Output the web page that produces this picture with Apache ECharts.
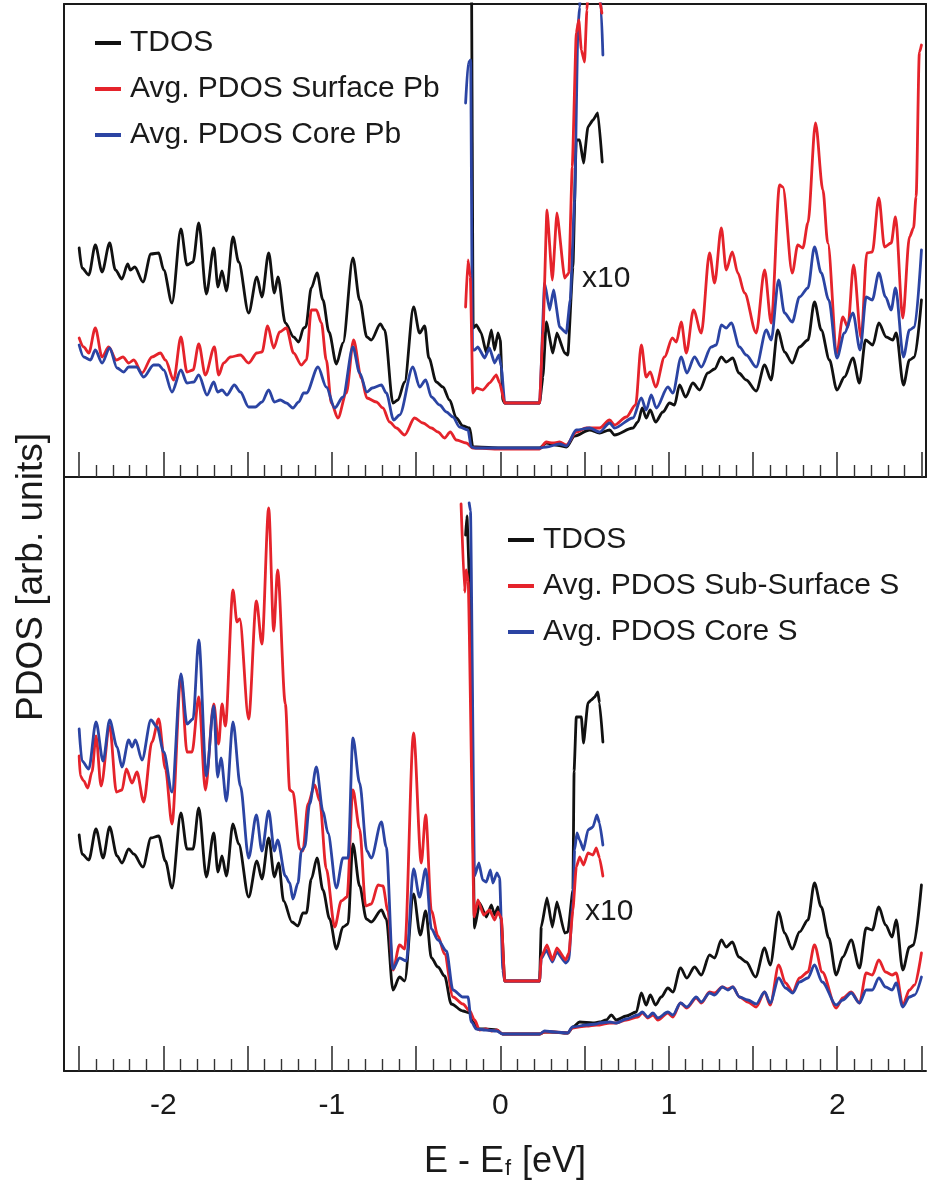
<!DOCTYPE html>
<html><head><meta charset="utf-8">
<script src="https://cdn.jsdelivr.net/npm/echarts@6/dist/echarts.min.js"></script>
<style>html,body{margin:0;padding:0;background:#fff}#c{width:928px;height:1183px}</style>
</head><body><div id="c"></div>
<script>
// ---------- data (E - Ef in eV, PDOS in arb. units) ----------
const xTickLabels = [-2, -1, 0, 1, 2];
const majorTicks = [-2.5, -2, -1.5, -1, -0.5, 0, 0.5, 1, 1.5, 2, 2.5];
const minorTicks = [-2.4,-2.3,-2.2,-2.1,-1.9,-1.8,-1.7,-1.6,-1.4,-1.3,-1.2,-1.1,-0.9,-0.8,-0.7,-0.6,-0.4,-0.3,-0.2,-0.1,
  0.1,0.2,0.3,0.4,0.6,0.7,0.8,0.9,1.1,1.2,1.3,1.4,1.6,1.7,1.8,1.9,2.1,2.2,2.3,2.4];
const topNames = ['TDOS', 'Avg. PDOS Surface Pb', 'Avg. PDOS Core Pb'];
const botNames = ['TDOS', 'Avg. PDOS Sub-Surface S', 'Avg. PDOS Core S'];

// top panel (Pb)
const topTdos = [[-2.50,229],[-2.483,209],[-2.443,202],[-2.404,232],[-2.364,205],[-2.319,234],[-2.285,207],[-2.246,198],[-2.212,213],[-2.196,207],[-2.170,210],[-2.121,195],[-2.074,223],[-2.028,224],[-1.998,207],[-1.949,174],[-1.896,248],[-1.860,212],[-1.824,215],[-1.790,254],[-1.745,183],[-1.701,229],[-1.676,190],[-1.652,206],[-1.626,186],[-1.587,240],[-1.553,215],[-1.494,164],[-1.445,200],[-1.415,180],[-1.375,224],[-1.341,184],[-1.320,200],[-1.276,154],[-1.227,140],[-1.197,135],[-1.167,149],[-1.155,150],[-1.122,189],[-1.088,204],[-1.053,177],[-1.017,145],[-0.973,113],[-0.934,134],[-0.875,219],[-0.835,177],[-0.792,140],[-0.766,137],[-0.712,153],[-0.687,147],[-0.637,74],[-0.608,77],[-0.568,95],[-0.515,170],[-0.479,144],[-0.449,151],[-0.424,119],[-0.380,95],[-0.341,90],[-0.301,77],[-0.261,59],[-0.222,51],[-0.182,49],[-0.163,30],[-0.142,30],[0.0,29],[0.233,29],[0.273,34],[0.328,32],[0.392,30],[0.441,41],[0.530,47],[0.589,44],[0.649,47],[0.678,42],[0.787,49],[0.817,55],[0.843,69],[0.866,59],[0.890,67],[0.922,55],[0.965,65],[1.005,74],[1.034,72],[1.064,92],[1.100,80],[1.143,94],[1.183,87],[1.232,104],[1.272,108],[1.312,120],[1.341,115],[1.380,119],[1.416,104],[1.460,97],[1.519,86],[1.569,112],[1.608,97],[1.647,147],[1.687,125],[1.733,114],[1.776,130],[1.826,137],[1.865,175],[1.905,147],[1.954,117],[1.998,87],[2.043,100],[2.093,119],[2.132,94],[2.168,137],[2.211,132],[2.247,154],[2.291,140],[2.330,137],[2.350,144],[2.393,92],[2.429,117],[2.459,120],[2.50,177]];
const topSurfPb = [[-2.50,139],[-2.473,130],[-2.443,124],[-2.404,149],[-2.364,120],[-2.325,130],[-2.279,117],[-2.240,120],[-2.206,114],[-2.176,117],[-2.127,104],[-2.068,120],[-2.018,124],[-1.988,117],[-1.939,97],[-1.896,140],[-1.860,105],[-1.824,107],[-1.790,133],[-1.751,102],[-1.697,130],[-1.672,102],[-1.642,114],[-1.602,120],[-1.543,122],[-1.494,114],[-1.445,124],[-1.415,125],[-1.381,151],[-1.345,129],[-1.310,145],[-1.270,149],[-1.227,124],[-1.181,112],[-1.151,117],[-1.122,167],[-1.092,167],[-1.062,154],[-1.033,117],[-1.003,74],[-0.964,59],[-0.914,84],[-0.871,137],[-0.825,99],[-0.792,79],[-0.736,75],[-0.697,69],[-0.657,55],[-0.617,49],[-0.568,42],[-0.509,59],[-0.459,54],[-0.409,49],[-0.370,45],[-0.331,39],[-0.297,45],[-0.261,37],[-0.202,34],[-0.163,29],[0.0,28],[0.233,28],[0.273,35],[0.312,34],[0.352,35],[0.392,32],[0.451,45],[0.510,49],[0.570,49],[0.589,49],[0.649,57],[0.678,52],[0.748,60],[0.803,72],[0.837,132],[0.866,100],[0.890,105],[0.922,90],[0.975,120],[1.021,139],[1.045,135],[1.074,155],[1.104,124],[1.147,167],[1.193,144],[1.242,224],[1.272,194],[1.312,249],[1.341,207],[1.377,225],[1.410,204],[1.450,184],[1.519,144],[1.569,207],[1.608,154],[1.658,292],[1.677,290],[1.733,204],[1.766,232],[1.796,229],[1.826,254],[1.871,354],[1.915,287],[1.944,234],[1.998,124],[2.033,160],[2.063,150],[2.097,212],[2.142,139],[2.176,224],[2.208,225],[2.247,279],[2.281,230],[2.320,234],[2.346,260],[2.389,159],[2.429,240],[2.453,249],[2.468,280],[2.488,425],[2.50,432]];
const topCorePb = [[-2.50,132],[-2.473,120],[-2.433,117],[-2.404,127],[-2.364,114],[-2.319,129],[-2.275,109],[-2.236,105],[-2.206,110],[-2.160,110],[-2.117,100],[-2.058,112],[-2.028,112],[-1.998,107],[-1.949,85],[-1.896,107],[-1.860,94],[-1.820,95],[-1.790,102],[-1.741,82],[-1.701,95],[-1.678,85],[-1.652,87],[-1.623,82],[-1.579,92],[-1.543,85],[-1.494,70],[-1.454,70],[-1.415,75],[-1.375,87],[-1.341,75],[-1.306,77],[-1.270,74],[-1.231,69],[-1.197,75],[-1.167,84],[-1.151,84],[-1.082,110],[-1.033,90],[-0.983,69],[-0.934,80],[-0.875,130],[-0.835,104],[-0.792,85],[-0.760,89],[-0.706,92],[-0.677,84],[-0.633,57],[-0.598,62],[-0.519,110],[-0.479,90],[-0.443,97],[-0.409,80],[-0.360,72],[-0.320,65],[-0.281,60],[-0.242,50],[-0.192,47],[-0.172,30],[-0.147,29],[0.233,29],[0.273,30],[0.352,33],[0.392,31],[0.451,47],[0.530,49],[0.589,45],[0.649,54],[0.678,49],[0.787,59],[0.837,79],[0.866,67],[0.896,82],[0.926,69],[0.995,90],[1.024,84],[1.074,120],[1.107,104],[1.153,120],[1.193,110],[1.252,130],[1.282,132],[1.312,152],[1.341,149],[1.371,154],[1.420,130],[1.460,122],[1.519,110],[1.579,147],[1.608,137],[1.652,197],[1.687,164],[1.733,155],[1.776,180],[1.826,189],[1.865,230],[1.905,204],[1.950,177],[1.998,119],[2.043,144],[2.093,164],[2.136,127],[2.172,180],[2.208,177],[2.247,204],[2.287,180],[2.320,167],[2.346,189],[2.393,120],[2.429,147],[2.459,150],[2.50,227]];
// x10 magnified band-edge region (top)
const topTdosX10 = [[-0.203,560],[-0.172,520],[-0.161,149],[-0.142,152],[-0.113,144],[-0.083,124],[-0.053,147],[-0.034,127],[-0.014,144],[0.0,137],[0.015,77],[0.026,74],[0.233,74],[0.253,100],[0.273,155],[0.312,124],[0.336,144],[0.382,124],[0.401,122],[0.431,210],[0.451,337],[0.471,337],[0.494,314],[0.520,350],[0.550,357],[0.579,364],[0.605,315]];
const topSurfPbX10 = [[-0.206,170],[-0.192,217],[-0.178,200],[-0.163,84],[-0.142,89],[-0.103,87],[-0.064,94],[-0.024,102],[-0.004,94],[0.026,74],[0.233,74],[0.253,144],[0.277,267],[0.309,197],[0.336,264],[0.382,199],[0.407,204],[0.427,310],[0.451,444],[0.466,457],[0.481,427],[0.500,415],[0.514,467],[0.530,520],[0.583,520],[0.589,477],[0.603,464]];
const topCorePbX10 = [[-0.206,374],[-0.191,414],[-0.176,417],[-0.165,127],[-0.153,127],[-0.133,130],[-0.093,119],[-0.064,129],[-0.034,114],[-0.008,122],[0.006,110],[0.026,74],[0.233,74],[0.263,194],[0.293,167],[0.316,187],[0.352,150],[0.392,144],[0.415,177],[0.441,277],[0.461,450],[0.471,470],[0.482,520],[0.583,520],[0.599,467],[0.609,422]];

// bottom panel (S)
const botTdos = [[-2.50,236],[-2.483,217],[-2.443,211],[-2.400,242],[-2.358,213],[-2.319,244],[-2.275,215],[-2.246,208],[-2.206,222],[-2.176,217],[-2.121,204],[-2.074,233],[-2.028,235],[-1.988,210],[-1.949,183],[-1.896,258],[-1.860,222],[-1.824,222],[-1.790,263],[-1.745,194],[-1.701,238],[-1.676,199],[-1.652,215],[-1.626,195],[-1.587,247],[-1.553,227],[-1.494,174],[-1.445,210],[-1.415,192],[-1.375,233],[-1.341,194],[-1.316,208],[-1.286,170],[-1.237,149],[-1.201,145],[-1.172,158],[-1.151,158],[-1.122,192],[-1.088,213],[-1.053,181],[-1.013,152],[-0.973,122],[-0.934,144],[-0.904,147],[-0.875,227],[-0.835,185],[-0.795,152],[-0.766,149],[-0.706,161],[-0.677,152],[-0.637,81],[-0.598,94],[-0.568,90],[-0.515,177],[-0.475,136],[-0.443,160],[-0.409,113],[-0.370,104],[-0.331,95],[-0.291,67],[-0.222,60],[-0.182,58],[-0.163,49],[-0.135,42],[-0.087,42],[-0.022,41],[0.014,37],[0.233,37],[0.263,39],[0.294,39],[0.401,38],[0.431,44],[0.471,49],[0.550,48],[0.589,49],[0.629,51],[0.659,56],[0.688,51],[0.748,55],[0.807,59],[0.837,78],[0.866,66],[0.890,76],[0.922,66],[0.955,74],[0.995,83],[1.024,79],[1.070,103],[1.107,93],[1.153,104],[1.193,96],[1.242,116],[1.272,113],[1.312,131],[1.341,124],[1.377,129],[1.416,114],[1.460,109],[1.515,94],[1.569,123],[1.602,106],[1.653,159],[1.687,138],[1.733,122],[1.776,139],[1.826,151],[1.865,188],[1.905,164],[1.950,133],[1.994,96],[2.033,114],[2.083,131],[2.132,103],[2.172,143],[2.208,141],[2.247,164],[2.287,146],[2.326,134],[2.350,151],[2.389,101],[2.429,124],[2.453,126],[2.50,186]];
const botSubS = [[-2.50,315],[-2.493,295],[-2.473,290],[-2.449,283],[-2.424,299],[-2.400,335],[-2.370,285],[-2.319,345],[-2.279,279],[-2.246,281],[-2.220,302],[-2.186,288],[-2.157,299],[-2.117,269],[-2.068,329],[-2.028,352],[-1.988,302],[-1.949,247],[-1.896,395],[-1.860,319],[-1.830,319],[-1.790,374],[-1.751,281],[-1.701,367],[-1.672,327],[-1.652,367],[-1.632,345],[-1.587,481],[-1.563,449],[-1.547,452],[-1.494,352],[-1.448,470],[-1.415,427],[-1.375,563],[-1.345,440],[-1.322,501],[-1.276,367],[-1.250,281],[-1.231,279],[-1.191,222],[-1.172,220],[-1.142,267],[-1.102,286],[-1.072,270],[-1.033,202],[-0.983,144],[-0.944,170],[-0.910,174],[-0.875,281],[-0.835,242],[-0.799,165],[-0.766,167],[-0.726,186],[-0.697,185],[-0.667,160],[-0.637,101],[-0.598,126],[-0.568,122],[-0.515,338],[-0.469,208],[-0.443,256],[-0.409,160],[-0.370,135],[-0.331,117],[-0.281,74],[-0.222,67],[-0.182,60],[-0.153,51],[-0.123,41],[-0.087,42],[-0.052,40],[-0.022,41],[0.014,37],[0.233,37],[0.263,39],[0.323,39],[0.399,38],[0.429,43],[0.512,45],[0.571,46],[0.589,46],[0.649,48],[0.688,48],[0.748,51],[0.817,54],[0.843,58],[0.876,53],[0.906,56],[0.935,51],[0.995,58],[1.024,54],[1.070,68],[1.107,63],[1.163,73],[1.193,68],[1.242,79],[1.272,78],[1.318,84],[1.351,82],[1.380,84],[1.420,74],[1.469,69],[1.519,64],[1.569,79],[1.602,66],[1.653,106],[1.693,88],[1.736,79],[1.776,93],[1.826,99],[1.865,126],[1.911,99],[1.994,63],[2.033,73],[2.083,79],[2.132,68],[2.172,98],[2.208,96],[2.247,111],[2.287,99],[2.326,96],[2.350,98],[2.389,66],[2.429,81],[2.459,86],[2.50,118]];
const botCoreS = [[-2.50,342],[-2.483,310],[-2.443,302],[-2.400,349],[-2.358,310],[-2.319,351],[-2.275,324],[-2.246,304],[-2.206,331],[-2.186,324],[-2.166,331],[-2.127,311],[-2.074,351],[-2.038,344],[-1.998,319],[-1.949,279],[-1.896,397],[-1.860,347],[-1.824,352],[-1.790,431],[-1.745,295],[-1.701,365],[-1.678,294],[-1.658,313],[-1.626,270],[-1.587,349],[-1.543,285],[-1.494,213],[-1.448,256],[-1.415,220],[-1.375,260],[-1.341,220],[-1.322,231],[-1.276,195],[-1.250,188],[-1.231,172],[-1.201,188],[-1.181,220],[-1.161,224],[-1.132,267],[-1.092,304],[-1.053,260],[-1.023,238],[-0.973,183],[-0.934,213],[-0.904,213],[-0.875,333],[-0.835,288],[-0.792,220],[-0.766,213],[-0.706,249],[-0.677,224],[-0.637,102],[-0.598,113],[-0.558,110],[-0.515,202],[-0.479,174],[-0.443,202],[-0.409,142],[-0.370,131],[-0.320,120],[-0.281,81],[-0.222,74],[-0.192,74],[-0.172,49],[-0.142,42],[-0.087,41],[-0.022,40],[0.014,37],[0.233,37],[0.263,40],[0.323,39],[0.399,38],[0.429,44],[0.512,46],[0.571,47],[0.589,48],[0.649,49],[0.688,48],[0.748,52],[0.817,56],[0.843,59],[0.876,54],[0.906,58],[0.935,53],[0.995,59],[1.024,56],[1.070,68],[1.107,64],[1.163,74],[1.193,69],[1.242,78],[1.272,76],[1.318,84],[1.351,81],[1.380,84],[1.420,74],[1.469,71],[1.519,67],[1.569,79],[1.602,68],[1.653,93],[1.693,83],[1.736,78],[1.776,89],[1.826,93],[1.865,106],[1.911,89],[1.994,66],[2.033,71],[2.083,78],[2.132,68],[2.172,81],[2.208,81],[2.247,93],[2.287,84],[2.326,81],[2.350,88],[2.389,64],[2.429,74],[2.459,76],[2.50,94]];
// x10 magnified band-edge region (bottom)
const botTdosX10 = [[-0.206,536],[-0.198,555],[-0.179,471],[-0.153,143],[-0.123,168],[-0.083,154],[-0.053,166],[-0.034,156],[-0.014,164],[0.006,151],[0.026,90],[0.233,90],[0.243,144],[0.277,173],[0.309,144],[0.336,169],[0.382,138],[0.401,139],[0.431,181],[0.438,300],[0.451,354],[0.481,354],[0.494,328],[0.520,368],[0.540,371],[0.560,374],[0.579,379],[0.589,368],[0.609,329]];
const botSubSX10 = [[-0.233,567],[-0.212,479],[-0.202,501],[-0.191,490],[-0.155,154],[-0.133,171],[-0.099,156],[-0.064,161],[-0.034,151],[-0.014,159],[0.006,153],[0.026,90],[0.233,90],[0.243,114],[0.277,126],[0.309,111],[0.336,123],[0.388,111],[0.407,118],[0.431,161],[0.451,204],[0.471,214],[0.494,206],[0.520,218],[0.550,216],[0.570,223],[0.589,213],[0.609,195]];
const botCoreSX10 = [[-0.185,568],[-0.177,560],[-0.153,195],[-0.127,208],[-0.105,191],[-0.083,189],[-0.059,201],[-0.044,188],[-0.020,198],[-0.004,193],[0.015,101],[0.026,90],[0.233,90],[0.243,112],[0.273,121],[0.309,109],[0.336,119],[0.388,108],[0.407,111],[0.431,170],[0.441,221],[0.455,238],[0.471,231],[0.494,221],[0.520,241],[0.550,244],[0.573,256],[0.589,248],[0.609,226]];

// ---------- chart ----------
const FONT = '"Liberation Sans", Arial, Helvetica, sans-serif';
const BLACK = '#111111', RED = '#e5232b', BLUE = '#2b44a3';
const X_MIN = -2.59, X_MAX = 2.527;
const TOP_MAX = 473, BOT_MAX = 594;

function line(name, data, color, xi, yi, z, smooth) {
  return { name, type: 'line', data, xAxisIndex: xi, yAxisIndex: yi, symbol: 'none', clip: true,
    smooth: smooth || false, smoothMonotone: 'x',
    lineStyle: { color, width: 2.8, join: 'round', cap: 'round' }, itemStyle: { color }, z, silent: true, animation: false };
}
function xAx(grid, opts) {
  return Object.assign({ type: 'value', gridIndex: grid, min: X_MIN, max: X_MAX, position: 'bottom',
    splitLine: { show: false }, axisLabel: { show: false }, axisTick: { show: false },
    axisLine: { show: false } }, opts);
}
const axisLineStyle = { show: true, onZero: false, lineStyle: { color: '#1a1a1a', width: 2 } };
const majorTickStyle = { show: true, inside: true, length: 25, customValues: majorTicks, lineStyle: { color: '#333', width: 1.6 } };
const minorTickStyle = { show: true, inside: true, length: 12, customValues: minorTicks, lineStyle: { color: '#333', width: 1.4 } };
const legendIcon = 'path://M0,0H26V4H0Z M30,0H30.02V4H30Z';
const SM = 0.3;

const option = {
  backgroundColor: '#ffffff',
  animation: false,
  textStyle: { fontFamily: FONT },
  grid: [
    { left: 64, right: 2, top: 4, height: 473 },
    { left: 64, right: 2, top: 477, height: 594 }
  ],
  xAxis: [
    xAx(0, { axisLine: axisLineStyle, axisTick: majorTickStyle }),
    xAx(0, { axisTick: minorTickStyle }),
    xAx(0, { position: 'top', axisLine: axisLineStyle }),
    xAx(1, { axisLine: axisLineStyle, axisTick: majorTickStyle,
      axisLabel: { show: true, customValues: xTickLabels, fontSize: 30, color: '#1a1a1a', fontFamily: FONT, margin: 20,
        formatter: v => String(Math.round(v)) } }),
    xAx(1, { axisTick: minorTickStyle })
  ],
  yAxis: [
    { type: 'value', gridIndex: 0, min: 0, max: TOP_MAX, position: 'left', axisLine: axisLineStyle,
      axisTick: { show: false }, axisLabel: { show: false }, splitLine: { show: false } },
    { type: 'value', gridIndex: 0, min: 0, max: TOP_MAX, position: 'right', axisLine: axisLineStyle,
      axisTick: { show: false }, axisLabel: { show: false }, splitLine: { show: false } },
    { type: 'value', gridIndex: 1, min: 0, max: BOT_MAX, position: 'left', axisLine: axisLineStyle,
      axisTick: { show: false }, axisLabel: { show: false }, splitLine: { show: false } }
  ],
  legend: [
    { data: topNames, orient: 'vertical', left: 95, top: 26, padding: 0, itemGap: 12,
      itemWidth: 30, itemHeight: 4, icon: legendIcon, selectedMode: false,
      textStyle: { fontSize: 30, lineHeight: 34, color: '#1a1a1a', fontFamily: FONT } },
    { data: botNames, orient: 'vertical', left: 508, top: 523, padding: 0, itemGap: 12,
      itemWidth: 30, itemHeight: 4, icon: legendIcon, selectedMode: false,
      textStyle: { fontSize: 30, lineHeight: 34, color: '#1a1a1a', fontFamily: FONT } }
  ],
  series: [
    line(topNames[0], topTdos, BLACK, 0, 0, 2, SM),
    line(topNames[1], topSurfPb, RED, 0, 0, 3, SM),
    line(topNames[2], topCorePb, BLUE, 0, 0, 4, SM),
    line('TDOS x10 (Pb)', topTdosX10, BLACK, 0, 0, 2, 0.15),
    line('Core Pb x10', topCorePbX10, BLUE, 0, 0, 3, 0.15),
    line('Surface Pb x10', topSurfPbX10, RED, 0, 0, 4, 0.15),
    line(botNames[0], botTdos, BLACK, 3, 2, 2, SM),
    line(botNames[1], botSubS, RED, 3, 2, 3, SM),
    line(botNames[2], botCoreS, BLUE, 3, 2, 4, SM),
    line('TDOS x10 (S)', botTdosX10, BLACK, 3, 2, 2, 0.15),
    line('Core S x10', botCoreSX10, BLUE, 3, 2, 3, 0.15),
    line('Sub-Surface S x10', botSubSX10, RED, 3, 2, 4, 0.15)
  ],
  graphic: [
    { type: 'text', x: 582, y: 279, style: { text: 'x10', font: '30px ' + FONT, fill: '#1a1a1a',
      align: 'left', verticalAlign: 'middle', textAlign: 'left', textVerticalAlign: 'middle' } },
    { type: 'text', x: 585, y: 912, style: { text: 'x10', font: '30px ' + FONT, fill: '#1a1a1a',
      align: 'left', verticalAlign: 'middle', textAlign: 'left', textVerticalAlign: 'middle' } },
    { type: 'text', x: 32, y: 577, rotation: Math.PI / 2, style: { text: 'PDOS [arb. units]', font: '37px ' + FONT,
      fill: '#1a1a1a', align: 'center', verticalAlign: 'middle', textAlign: 'center', textVerticalAlign: 'middle' } },
    { type: 'text', x: 505, y: 1160, style: {
      text: '{a|E - E}{s|f}{a| [eV]}', fill: '#1a1a1a', align: 'center', verticalAlign: 'middle',
      textAlign: 'center', textVerticalAlign: 'middle',
      rich: { a: { fontSize: 36, fontFamily: FONT, fill: '#1a1a1a', color: '#1a1a1a', lineHeight: 40, verticalAlign: 'bottom' },
              s: { fontSize: 22, fontFamily: FONT, fill: '#1a1a1a', color: '#1a1a1a', lineHeight: 18, verticalAlign: 'bottom', padding: [0, 1, 0, 1] } } } }
  ]
};
const chart = echarts.init(document.getElementById('c'), null, { renderer: 'canvas' });
chart.setOption(option);
</script></body></html>
